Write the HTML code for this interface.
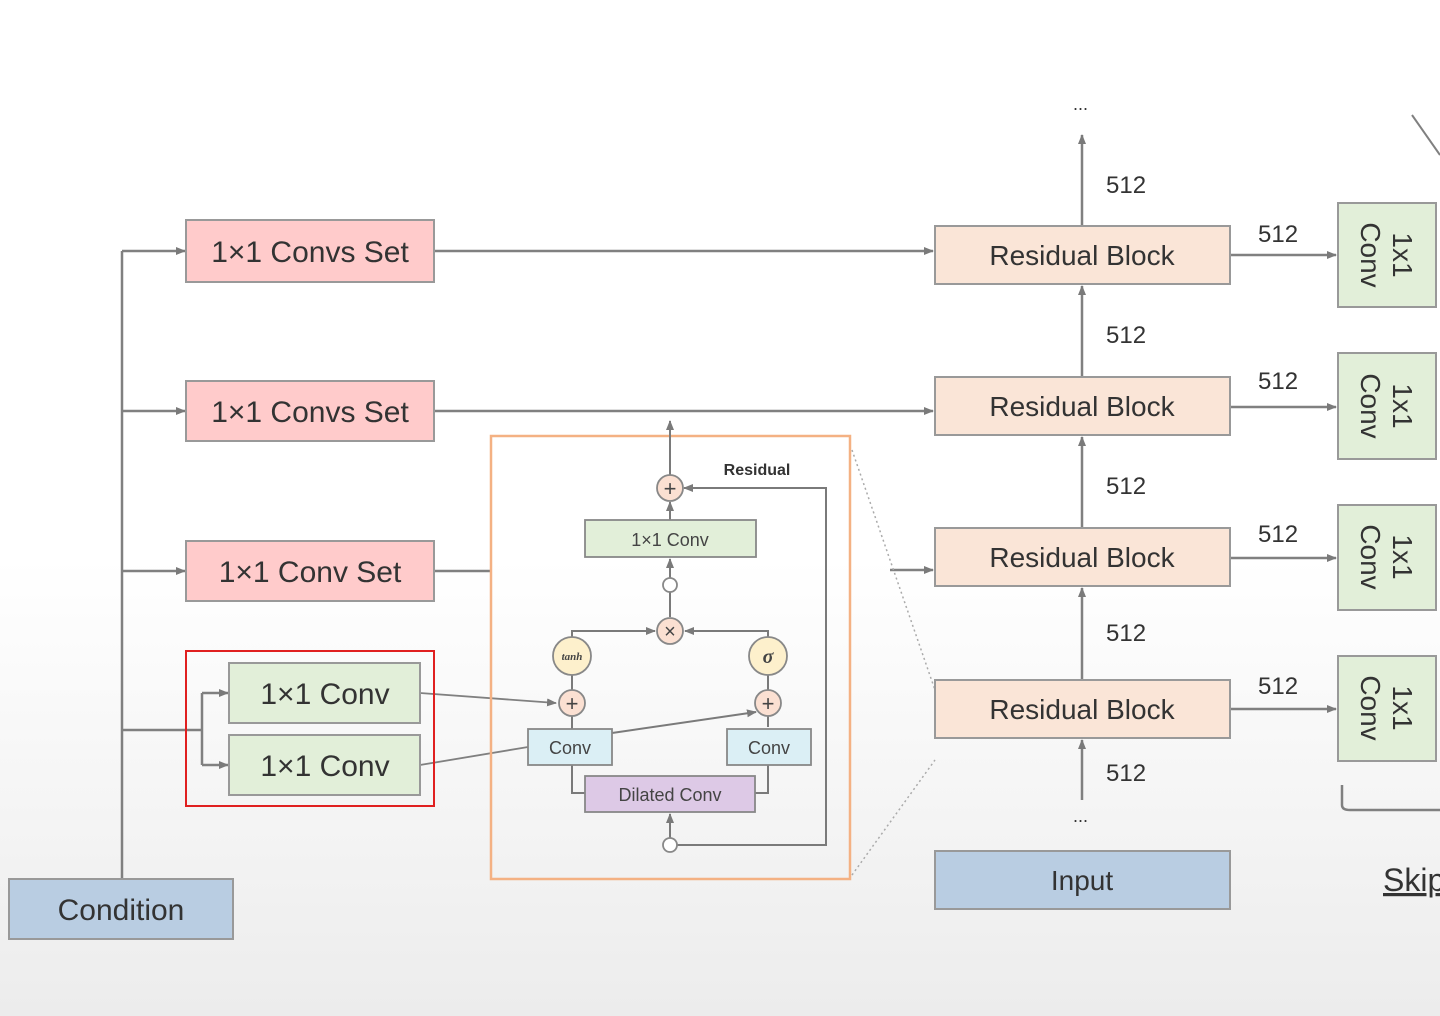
<!DOCTYPE html>
<html><head><meta charset="utf-8"><style>
html,body{margin:0;padding:0;width:1440px;height:1016px;overflow:hidden;background:linear-gradient(#fff 0%,#fff 55%,#ececec 100%);}
svg{display:block;font-family:"Liberation Sans",sans-serif;}
</style></head><body>
<svg width="1440" height="1016" viewBox="0 0 1440 1016">
<defs>
<marker id="a" markerWidth="10" markerHeight="10" refX="9" refY="5" orient="auto" markerUnits="userSpaceOnUse"><path d="M0,1 L10,5 L0,9 Z" fill="#7a7a7a"/></marker>
</defs>
<g stroke="#808080" stroke-width="2.5" fill="none">
<!-- condition tree -->
<line x1="122" y1="879" x2="122" y2="251"/>
<line x1="122" y1="251" x2="185" y2="251" marker-end="url(#a)"/>
<line x1="122" y1="411" x2="185" y2="411" marker-end="url(#a)"/>
<line x1="122" y1="571" x2="185" y2="571" marker-end="url(#a)"/>
<line x1="122" y1="730" x2="202" y2="730"/>
<line x1="202" y1="693" x2="202" y2="765"/>
<line x1="202" y1="693" x2="228" y2="693" marker-end="url(#a)"/>
<line x1="202" y1="765" x2="228" y2="765" marker-end="url(#a)"/>
<line x1="434" y1="251" x2="933" y2="251" marker-end="url(#a)"/>
<line x1="434" y1="411" x2="933" y2="411" marker-end="url(#a)"/>
<line x1="434" y1="571" x2="491" y2="571"/>
<line x1="890" y1="570" x2="933" y2="570" marker-end="url(#a)"/>
<line x1="420" y1="693" x2="556" y2="703" stroke-width="1.8" marker-end="url(#a)"/>
<line x1="420" y1="765" x2="528" y2="747" stroke-width="1.8"/>
<!-- residual stack -->
<line x1="1082" y1="226" x2="1082" y2="135" marker-end="url(#a)"/>
<line x1="1082" y1="377" x2="1082" y2="286" marker-end="url(#a)"/>
<line x1="1082" y1="528" x2="1082" y2="437" marker-end="url(#a)"/>
<line x1="1082" y1="680" x2="1082" y2="588" marker-end="url(#a)"/>
<line x1="1082" y1="800" x2="1082" y2="740" marker-end="url(#a)"/>
<line x1="1230" y1="255" x2="1336" y2="255" marker-end="url(#a)"/>
<line x1="1230" y1="407" x2="1336" y2="407" marker-end="url(#a)"/>
<line x1="1230" y1="558" x2="1336" y2="558" marker-end="url(#a)"/>
<line x1="1230" y1="709" x2="1336" y2="709" marker-end="url(#a)"/>
<path d="M1342,785 L1342,805 Q1342,810 1350,810 L1440,810"/>
<line x1="1412" y1="115" x2="1440" y2="155" stroke-width="2"/>
</g>
<g stroke="#aaa" stroke-width="1.5" stroke-dasharray="2,3" fill="none">
<line x1="852" y1="450" x2="935" y2="690"/>
<line x1="852" y1="875" x2="935" y2="760"/>
</g>
<!-- boxes left -->
<g stroke="#999" stroke-width="2">
<rect x="186" y="220" width="248" height="62" fill="#ffcbcb"/>
<rect x="186" y="381" width="248" height="60" fill="#ffcbcb"/>
<rect x="186" y="541" width="248" height="60" fill="#ffcbcb"/>
<rect x="229" y="663" width="191" height="60" fill="#e2efd9"/>
<rect x="229" y="735" width="191" height="60" fill="#e2efd9"/>
<rect x="9" y="879" width="224" height="60" fill="#b9cde2"/>
</g>
<rect x="186" y="651" width="248" height="155" fill="none" stroke="#e02020" stroke-width="2"/>
<g font-size="30" fill="#333" text-anchor="middle">
<text x="310" y="262">1×1 Convs Set</text>
<text x="310" y="422">1×1 Convs Set</text>
<text x="310" y="582">1×1 Conv Set</text>
<text x="325" y="704">1×1 Conv</text>
<text x="325" y="776">1×1 Conv</text>
<text x="121" y="920">Condition</text>
</g>
<!-- residual blocks -->
<g stroke="#999" stroke-width="2">
<rect x="935" y="226" width="295" height="58" fill="#fae5d7"/>
<rect x="935" y="377" width="295" height="58" fill="#fae5d7"/>
<rect x="935" y="528" width="295" height="58" fill="#fae5d7"/>
<rect x="935" y="680" width="295" height="58" fill="#fae5d7"/>
<rect x="935" y="851" width="295" height="58" fill="#b9cde2"/>
<rect x="1338" y="203" width="98" height="104" fill="#e2efd9"/>
<rect x="1338" y="353" width="98" height="106" fill="#e2efd9"/>
<rect x="1338" y="505" width="98" height="105" fill="#e2efd9"/>
<rect x="1338" y="656" width="98" height="105" fill="#e2efd9"/>
</g>
<g font-size="28" fill="#333" text-anchor="middle">
<text x="1082" y="265">Residual Block</text>
<text x="1082" y="416">Residual Block</text>
<text x="1082" y="567">Residual Block</text>
<text x="1082" y="719">Residual Block</text>
<text x="1082" y="890">Input</text>
</g>
<g font-size="24" fill="#333">
<text x="1106" y="193">512</text><text x="1106" y="343">512</text><text x="1106" y="494">512</text><text x="1106" y="641">512</text><text x="1106" y="781">512</text>
<text x="1258" y="242">512</text><text x="1258" y="389">512</text><text x="1258" y="542">512</text><text x="1258" y="694">512</text>
<text x="1073" y="110" font-size="18">...</text><text x="1073" y="822" font-size="18">...</text>
<text x="1383" y="891" font-size="32" text-decoration="underline">Skip</text>
</g>
<g font-size="28" fill="#333" text-anchor="middle">
<text transform="translate(1387,255) rotate(90)"><tspan x="0" y="-6">1x1</tspan><tspan x="0" y="26">Conv</tspan></text>
<text transform="translate(1387,406) rotate(90)"><tspan x="0" y="-6">1x1</tspan><tspan x="0" y="26">Conv</tspan></text>
<text transform="translate(1387,557) rotate(90)"><tspan x="0" y="-6">1x1</tspan><tspan x="0" y="26">Conv</tspan></text>
<text transform="translate(1387,708) rotate(90)"><tspan x="0" y="-6">1x1</tspan><tspan x="0" y="26">Conv</tspan></text>
</g>
<!-- detail box -->
<rect x="491" y="436" width="359" height="443" fill="none" stroke="#f4b183" stroke-width="2.5"/>
<g stroke="#7a7a7a" stroke-width="2" fill="none">
<line x1="670" y1="475" x2="670" y2="421" marker-end="url(#a)"/>
<line x1="670" y1="520" x2="670" y2="502" marker-end="url(#a)"/>
<line x1="670" y1="617" x2="670" y2="592"/>
<line x1="670" y1="578" x2="670" y2="559" marker-end="url(#a)"/>
<path d="M572,637 L572,631 L655,631" marker-end="url(#a)"/>
<path d="M768,637 L768,631 L685,631" marker-end="url(#a)"/>
<line x1="572" y1="675" x2="572" y2="690"/>
<line x1="768" y1="675" x2="768" y2="690"/>
<line x1="572" y1="716" x2="572" y2="729"/>
<line x1="768" y1="716" x2="768" y2="727"/>
<path d="M572,765 L572,793 L585,793"/>
<path d="M768,765 L768,793 L755,793"/>
<line x1="670" y1="838" x2="670" y2="814" marker-end="url(#a)"/>
<path d="M677,845 L826,845 L826,488 L684,488" marker-end="url(#a)"/>
<line x1="612" y1="733" x2="756" y2="712" marker-end="url(#a)"/>
</g>
<g stroke="#888" stroke-width="1.8">
<rect x="585" y="520" width="171" height="37" fill="#e2efd9"/>
<rect x="528" y="729" width="84" height="36" fill="#dbeff5"/>
<rect x="727" y="729" width="84" height="36" fill="#dbeff5"/>
<rect x="585" y="776" width="170" height="36" fill="#ddc9e6"/>
<circle cx="670" cy="488" r="13" fill="#fbe0d2"/>
<circle cx="670" cy="631" r="13" fill="#fbe0d2"/>
<circle cx="572" cy="703" r="13" fill="#fbe0d2"/>
<circle cx="768" cy="703" r="13" fill="#fbe0d2"/>
<circle cx="572" cy="656" r="19" fill="#fdf0cc"/>
<circle cx="768" cy="656" r="19" fill="#fdf0cc"/>
<circle cx="670" cy="585" r="7" fill="#fff"/>
<circle cx="670" cy="845" r="7" fill="#fff"/>
</g>
<g fill="#444" text-anchor="middle">
<text x="670" y="496" font-size="22">+</text>
<text x="572" y="711" font-size="22">+</text>
<text x="768" y="711" font-size="22">+</text>
<text x="670" y="638" font-size="20">×</text>
<text x="572" y="660" font-size="11" font-style="italic" font-weight="bold" font-family="Liberation Serif,serif">tanh</text>
<text x="768" y="663" font-size="20" font-style="italic" font-weight="bold" font-family="Liberation Serif,serif">σ</text>
<text x="670" y="546" font-size="18">1×1 Conv</text>
<text x="570" y="754" font-size="18">Conv</text>
<text x="769" y="754" font-size="18">Conv</text>
<text x="670" y="801" font-size="18">Dilated Conv</text>
<text x="757" y="475" font-size="16" font-weight="bold" fill="#333">Residual</text>
</g>
</svg>
</body></html>
